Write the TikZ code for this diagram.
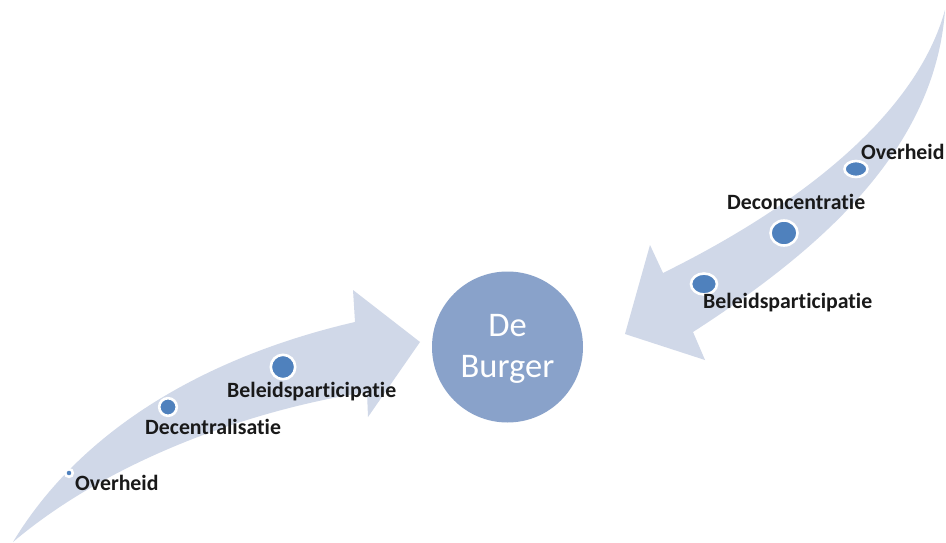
\documentclass[tikz,border=0pt]{standalone}
\usepackage{fontspec}
\setmainfont[Ligatures={NoCommon}]{Carlito}
\definecolor{arrowfill}{RGB}{208,216,232}
\definecolor{circfill}{RGB}{137,162,202}
\definecolor{dotfill}{RGB}{79,129,189}
\begin{document}
\begin{tikzpicture}[x=1pt,y=-1pt,
  shaft/.style={fill=arrowfill},
  dotst/.style={fill=dotfill,draw=white,line width=2.6pt},
  lbl/.style={anchor=base west,inner sep=0pt,font=\fontsize{21.8}{24}\selectfont\bfseries,text=black!90},
  burger/.style={circle,fill=circfill,minimum size=151pt,inner sep=0pt,text=white,
    font=\fontsize{34.5}{41}\selectfont,align=center}]
\useasboundingbox (0,0) rectangle (946,543);
\fill[white] (0,0) rectangle (946,543);
% left arrow
\fill[shaft] (13,542) .. controls (88,418) and (225,352) .. (355,322)
  -- (353,290) -- (420,342) -- (368,417) -- (367,392)
  .. controls (250,410) and (110,460) .. (13,542) -- cycle;
% right arrow
\fill[shaft] (945,10) .. controls (917,112) and (805,203) .. (663,273)
  -- (650,245) -- (625,334) -- (705,360) -- (693,332)
  .. controls (820,250) and (935,150) .. (945,10) -- cycle;
% centre circle
\node[circle,fill=circfill,minimum size=151pt,inner sep=0pt] (burger) at (507.5,347) {};
\node[text=white,font=\fontsize{34.5}{41}\selectfont,align=center,inner sep=0pt] (burgertxt) at (507.5,349) {De\\Burger};
% left dots and labels
\path[dotst] (69,473) circle[radius=3.8pt];
\path[dotst] (168,407) circle[radius=8.8pt];
\path[dotst] (283,367) circle[radius=12.2pt];
\node[lbl] (lov) at (75,490) {Overheid};
\node[lbl] (ldec) at (145,434) {Decentralisatie};
\node[lbl] (lbel) at (227,397) {Beleidsparticipatie};
% right dots and labels
\path[dotst] (856,169) ellipse[x radius=11.5pt,y radius=8pt];
\path[dotst] (784,233) ellipse[x radius=13.5pt,y radius=12.5pt];
\path[dotst] (704,284) ellipse[x radius=13pt,y radius=10.5pt];
\node[lbl] (rov) at (861,159) {Overheid};
\node[lbl] (rdec) at (727,209) {Deconcentratie};
\node[lbl] (rbel) at (703,308) {Beleidsparticipatie};
\end{tikzpicture}
\end{document}
